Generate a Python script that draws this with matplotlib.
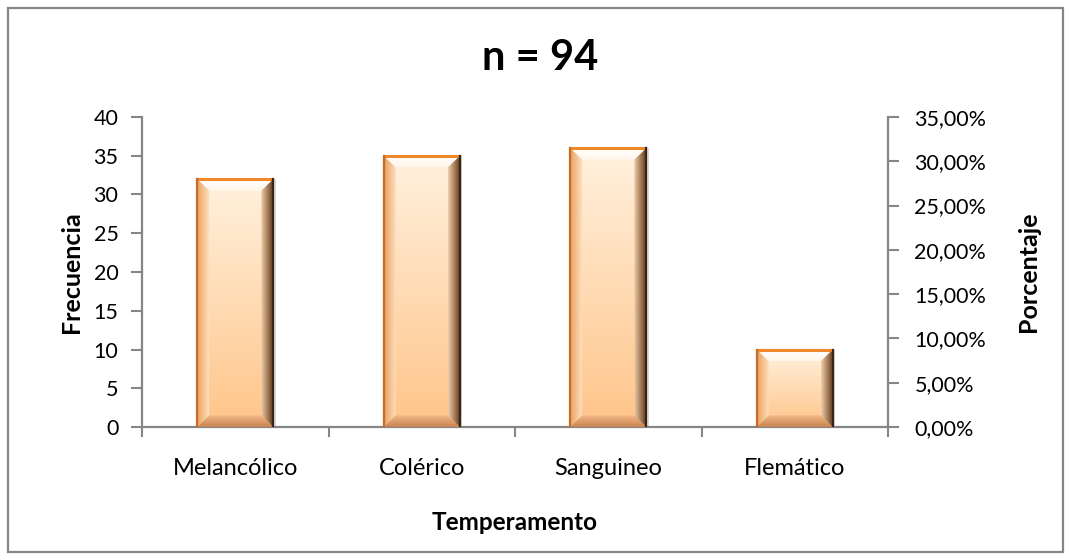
import matplotlib
matplotlib.use('Agg')
import numpy as np
import matplotlib.pyplot as plt
from matplotlib.patches import Polygon, Rectangle
from matplotlib.colors import to_rgb

categories = ['Melancólico', 'Colérico', 'Sanguineo', 'Flemático']
frecuencia = [32, 35, 36, 10]
left_ticks = [0, 5, 10, 15, 20, 25, 30, 35, 40]
right_ticks = [0.0, 0.05, 0.10, 0.15, 0.20, 0.25, 0.30, 0.35]
title = 'n = 94'

plt.rcParams['font.family'] = ['Lato', 'DejaVu Sans']
W, H = 1071, 560
fig = plt.figure(figsize=(W / 100, H / 100), dpi=100)
fig.patches.append(Rectangle((8 / W, 8 / H), (1063 - 8) / W, (552 - 8) / H,
                             transform=fig.transFigure, fill=False,
                             edgecolor='#868686', lw=1.6))
ax = fig.add_axes([142 / W, 133 / H, 746 / W, 310 / H])
x = np.arange(len(categories))
bars = ax.bar(x, frecuencia, width=0.41, color='none', edgecolor='none', zorder=2)


def grad(c0, c1, n=64, horizontal=False):
    a = np.array(to_rgb(c0)); b = np.array(to_rgb(c1))
    t = np.linspace(0, 1, n)[:, None]
    arr = a * (1 - t) + b * t
    if horizontal:
        return arr[None, :, :]
    return arr[:, None, :]


def fill(ax, pts, arr, extent, z, alpha=1.0):
    poly = Polygon(pts, closed=True, facecolor='none', edgecolor='none')
    ax.add_patch(poly)
    im = ax.imshow(arr, extent=extent, aspect='auto', origin='lower',
                   interpolation='bilinear', zorder=z, alpha=alpha)
    im.set_clip_path(poly)


bx, by = 0.065, 1.5
for b in bars:
    x0, w, h = b.get_x(), b.get_width(), b.get_height()
    x1 = x0 + w
    # soft shadow
    ax.add_patch(Rectangle((x1, 0), 0.012, h, facecolor='#d8d8d8', edgecolor='none', zorder=1))
    # body gradient
    fill(ax, [(x0, 0), (x1, 0), (x1, h), (x0, h)], grad('#FFC58A', '#FFF1DE'),
         [x0, x1, 0, h], 2)
    # top bevel
    fill(ax, [(x0, h), (x1, h), (x1 - bx, h - by), (x0 + bx, h - by)],
         grad('#FFF6EA', '#FFFFFF'), [x0, x1, h - by, h], 3)
    # bottom bevel
    fill(ax, [(x0, 0), (x1, 0), (x1 - bx, by), (x0 + bx, by)],
         grad('#C88450', '#F4B888'), [x0, x1, 0, by], 3)
    # left bevel
    fill(ax, [(x0, 0), (x0, h), (x0 + bx, h - by), (x0 + bx, by)],
         grad('#E8A060', '#FFE4C4', horizontal=True), [x0, x0 + bx, 0, h], 3)
    # right bevel
    fill(ax, [(x1, 0), (x1, h), (x1 - bx, h - by), (x1 - bx, by)],
         grad('#F2CDA8', '#5A3414', horizontal=True), [x1 - bx, x1, 0, h], 3)
    # edges
    ax.plot([x0, x1], [h, h], color='#F0882A', lw=2.2, zorder=4, solid_capstyle='butt')
    ax.plot([x0, x0], [0, h], color='#C46C28', lw=1.6, zorder=4)
    ax.plot([x1, x1], [0, h], color='#3C2410', lw=1.6, zorder=4)

ax.set_xlim(-0.5, len(categories) - 0.5)
ax.set_ylim(0, 40)
ax.set_yticks(left_ticks)
ax.set_xticks(np.arange(len(categories) + 1) - 0.5)
ax.set_xticklabels([])
ax.set_xticks(x, minor=True)
ax.set_xticklabels(categories, minor=True)
ax.tick_params(axis='x', which='major', direction='out', length=7, width=1.5, color='#868686')
ax.tick_params(axis='x', which='minor', length=0, pad=22, labelsize=17)
ax.tick_params(axis='y', direction='out', length=8, width=1.5, color='#868686', pad=9, labelsize=15.5)
for s in ['top', 'right']:
    ax.spines[s].set_visible(False)
for s in ['left', 'bottom']:
    ax.spines[s].set_color('#868686')
    ax.spines[s].set_linewidth(1.6)

ax2 = ax.twinx()
ax2.set_ylim(0, 0.35)
ax2.set_yticks(right_ticks)
ax2.set_yticklabels([('%.2f%%' % (v * 100)).replace('.', ',') for v in right_ticks])
ax2.tick_params(axis='y', direction='out', length=8, width=1.5, color='#868686', pad=11, labelsize=15.5)
for s in ['top', 'left', 'bottom']:
    ax2.spines[s].set_visible(False)
ax2.spines['right'].set_color('#868686')
ax2.spines['right'].set_linewidth(1.6)

ax.set_ylabel('Frecuencia', fontsize=18, fontweight='bold')
ax.yaxis.set_label_coords(-0.079, 0.5)
ax2.set_ylabel('Porcentaje', fontsize=18, fontweight='bold')
ax2.yaxis.set_label_coords(1.173, 0.5)
ax.set_xlabel('Temperamento', fontsize=17.5, fontweight='bold')
ax.xaxis.set_label_coords(0.5, -0.272)

fig.text(540 / W, 1 - 58 / H, title, ha='center', va='center', fontsize=30, fontweight='bold')

fig.savefig('out.png', dpi=100)
